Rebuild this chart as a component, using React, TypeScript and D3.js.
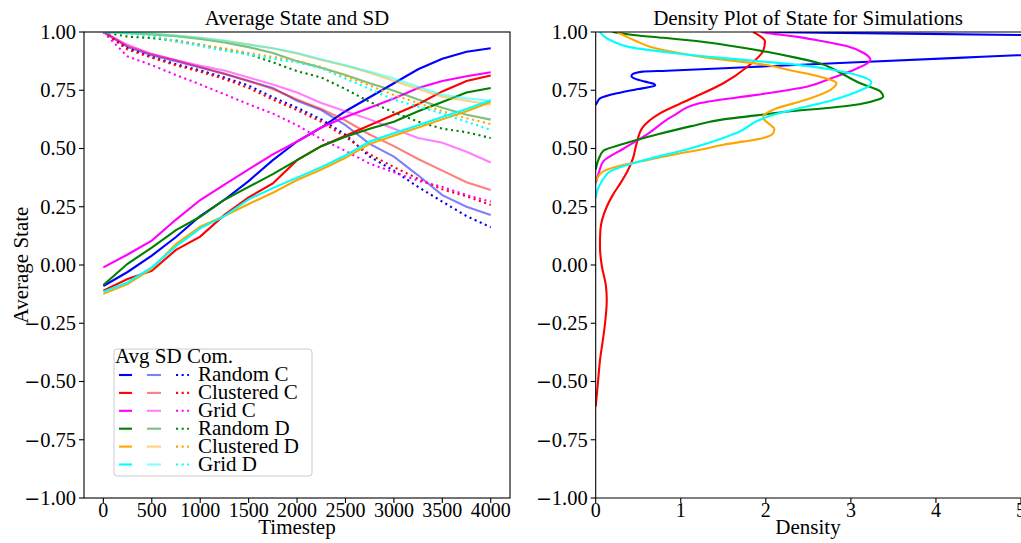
import React from "react";
import * as d3 from "d3";

// ---------- DATA ----------
const timesteps = [0, 250, 500, 750, 1000, 1250, 1500, 1750, 2000, 2250, 2500, 2750, 3000, 3250, 3500, 3750, 4000];
const categories = ["Random C", "Clustered C", "Grid C", "Random D", "Clustered D", "Grid D"];

// Average state
const avgRandomC = [-0.09, -0.03, 0.04, 0.12, 0.21, 0.28, 0.36, 0.45, 0.53, 0.59, 0.66, 0.72, 0.78, 0.84, 0.885, 0.915, 0.93];
const avgClusteredC = [-0.11, -0.06, -0.025, 0.065, 0.122, 0.215, 0.29, 0.35, 0.45, 0.51, 0.555, 0.6, 0.645, 0.69, 0.745, 0.79, 0.813];
const avgGridC = [-0.01, 0.045, 0.105, 0.195, 0.279, 0.345, 0.41, 0.475, 0.53, 0.59, 0.635, 0.675, 0.715, 0.76, 0.79, 0.81, 0.827];
const avgRandomD = [-0.086, 0.005, 0.075, 0.15, 0.207, 0.28, 0.335, 0.39, 0.45, 0.51, 0.55, 0.585, 0.615, 0.66, 0.7, 0.74, 0.76];
const avgClusteredD = [-0.124, -0.082, -0.016, 0.09, 0.165, 0.21, 0.262, 0.31, 0.365, 0.41, 0.46, 0.52, 0.555, 0.59, 0.625, 0.66, 0.7];
const avgGridD = [-0.115, -0.075, -0.01, 0.08, 0.157, 0.21, 0.282, 0.33, 0.375, 0.42, 0.47, 0.53, 0.565, 0.6, 0.635, 0.67, 0.707];

// SD
const sdRandomC = [1.0, 0.935, 0.9, 0.875, 0.848, 0.82, 0.79, 0.76, 0.705, 0.665, 0.6, 0.52, 0.465, 0.385, 0.3, 0.25, 0.215];
const sdClusteredC = [1.0, 0.94, 0.905, 0.878, 0.85, 0.822, 0.79, 0.755, 0.71, 0.67, 0.62, 0.56, 0.51, 0.455, 0.405, 0.355, 0.322];
const sdGridC = [1.0, 0.945, 0.905, 0.88, 0.855, 0.835, 0.805, 0.775, 0.74, 0.695, 0.66, 0.625, 0.585, 0.545, 0.525, 0.486, 0.44];
const sdRandomD = [1.0, 0.995, 0.99, 0.982, 0.97, 0.955, 0.935, 0.91, 0.875, 0.847, 0.815, 0.78, 0.748, 0.71, 0.675, 0.645, 0.624];
const sdClusteredD = [1.0, 0.997, 0.992, 0.985, 0.975, 0.962, 0.947, 0.93, 0.908, 0.88, 0.855, 0.825, 0.79, 0.755, 0.722, 0.705, 0.688];
const sdGridD = [1.0, 0.997, 0.993, 0.985, 0.975, 0.962, 0.945, 0.93, 0.91, 0.883, 0.857, 0.83, 0.8, 0.765, 0.73, 0.715, 0.705];

// Com.
const comRandomC = [1.0, 0.93, 0.893, 0.862, 0.835, 0.805, 0.77, 0.72, 0.675, 0.625, 0.56, 0.465, 0.405, 0.335, 0.272, 0.21, 0.162];
const comClusteredC = [1.0, 0.925, 0.89, 0.857, 0.83, 0.798, 0.76, 0.71, 0.665, 0.615, 0.55, 0.475, 0.42, 0.37, 0.325, 0.295, 0.258];
const comGridC = [1.0, 0.895, 0.858, 0.815, 0.775, 0.733, 0.69, 0.65, 0.6, 0.54, 0.49, 0.435, 0.398, 0.362, 0.335, 0.3, 0.272];
const comRandomD = [1.0, 0.98, 0.974, 0.963, 0.945, 0.925, 0.905, 0.87, 0.832, 0.805, 0.755, 0.7, 0.655, 0.615, 0.585, 0.57, 0.545];
const comClusteredD = [1.0, 0.995, 0.985, 0.958, 0.945, 0.93, 0.91, 0.893, 0.875, 0.85, 0.81, 0.77, 0.73, 0.695, 0.66, 0.63, 0.605];
const comGridD = [1.0, 0.993, 0.985, 0.96, 0.94, 0.92, 0.903, 0.885, 0.87, 0.845, 0.8, 0.755, 0.71, 0.68, 0.65, 0.615, 0.58];

// Density (state, density) per simulation
const densStateRandomC = [0.687, 0.7, 0.715, 0.737, 0.755, 0.763, 0.77, 0.778, 0.787, 0.8, 0.81, 0.818, 0.83, 0.834, 0.85, 0.87, 0.89, 0.9, 0.92, 0.95, 0.97, 0.98, 0.987, 0.997, 1.0];
const densValueRandomC = [0, 0.02, 0.05, 0.25, 0.5, 0.62, 0.7, 0.68, 0.58, 0.46, 0.42, 0.43, 0.55, 0.84, 1.83, 3.07, 4.32, 4.95, 6.0, 7.0, 6.8, 5.8, 5.0, 2.64, 2.0];
const densStateClusteredC = [-0.608, -0.55, -0.49, -0.41, -0.32, -0.25, -0.15, -0.09, 0.0, 0.08, 0.15, 0.25, 0.3, 0.345, 0.4, 0.46, 0.52, 0.59, 0.65, 0.71, 0.78, 0.85, 0.92, 0.96, 0.99, 1.0];
const densValueClusteredC = [0, 0.015, 0.03, 0.05, 0.085, 0.11, 0.13, 0.12, 0.07, 0.05, 0.055, 0.13, 0.2, 0.28, 0.37, 0.44, 0.48, 0.55, 0.75, 1.1, 1.5, 1.78, 1.97, 1.99, 1.9, 1.85];
const densStateGridC = [0.352, 0.4, 0.445, 0.5, 0.56, 0.64, 0.695, 0.73, 0.765, 0.8, 0.84, 0.88, 0.91, 0.94, 0.965, 0.98, 0.994, 1.0];
const densValueGridC = [0, 0.04, 0.09, 0.33, 0.6, 0.91, 1.23, 1.89, 2.48, 2.76, 3.05, 3.23, 3.15, 2.95, 2.6, 2.35, 2.05, 1.94];
const densStateRandomD = [0.41, 0.45, 0.49, 0.52, 0.56, 0.595, 0.625, 0.642, 0.66, 0.675, 0.69, 0.71, 0.722, 0.744, 0.78, 0.81, 0.84, 0.865, 0.89, 0.915, 0.94, 0.959, 0.975, 0.987, 1.0];
const densValueRandomD = [0, 0.03, 0.09, 0.33, 0.72, 1.11, 1.5, 1.89, 2.29, 2.76, 3.1, 3.32, 3.38, 3.35, 3.11, 2.95, 2.8, 2.64, 2.35, 2.01, 1.6, 1.23, 0.8, 0.44, 0.2];
const densStateClusteredD = [0.358, 0.38, 0.402, 0.43, 0.45, 0.473, 0.5, 0.516, 0.545, 0.567, 0.585, 0.602, 0.625, 0.638, 0.667, 0.71, 0.752, 0.78, 0.808, 0.835, 0.858, 0.894, 0.915, 0.937, 0.96, 0.98, 1.0];
const densValueClusteredD = [0, 0.03, 0.09, 0.33, 0.6, 0.91, 1.3, 1.5, 1.97, 2.09, 2.1, 2.05, 1.98, 1.97, 2.09, 2.48, 2.76, 2.83, 2.64, 2.3, 2.01, 1.23, 0.9, 0.64, 0.48, 0.36, 0.25];
const densStateGridD = [0.288, 0.32, 0.345, 0.375, 0.402, 0.445, 0.5, 0.545, 0.574, 0.617, 0.645, 0.68, 0.705, 0.74, 0.77, 0.785, 0.8, 0.823, 0.84, 0.86, 0.875, 0.888, 0.91, 0.935, 0.96, 0.98, 1.0];
const densValueGridD = [0, 0.02, 0.05, 0.1, 0.17, 0.52, 1.11, 1.5, 1.7, 1.89, 2.09, 2.48, 2.76, 3.05, 3.22, 3.24, 3.19, 2.99, 2.75, 2.35, 1.9, 1.5, 0.91, 0.4, 0.2, 0.1, 0.05];

const yTicks = [-1, -0.75, -0.5, -0.25, 0, 0.25, 0.5, 0.75, 1];
const xTicksLeft = [0, 500, 1000, 1500, 2000, 2500, 3000, 3500, 4000];
const xTicksRight = [0, 1, 2, 3, 4, 5];

// ---------- STYLE ----------
const colors = ["#0000ff", "#ff0000", "#ff00ff", "#008000", "#ffa500", "#00ffff"];
const FONT = "'Liberation Serif', 'Times New Roman', serif";
const MINUS_FONT = "'DejaVu Serif', serif";

const avgSeries = [avgRandomC, avgClusteredC, avgGridC, avgRandomD, avgClusteredD, avgGridD];
const sdSeries = [sdRandomC, sdClusteredC, sdGridC, sdRandomD, sdClusteredD, sdGridD];
const comSeries = [comRandomC, comClusteredC, comGridC, comRandomD, comClusteredD, comGridD];
const densStates = [densStateRandomC, densStateClusteredC, densStateGridC, densStateRandomD, densStateClusteredD, densStateGridD];
const densValues = [densValueRandomC, densValueClusteredC, densValueGridC, densValueRandomD, densValueClusteredD, densValueGridD];

const W = 1021;
const H = 543;
const top = 32;
const bottom = 498;
const L = { x0: 84, x1: 510 };
const R = { x0: 595.7, x1: 1021 };

export default function App() {
  const y = d3.scaleLinear().domain([-1, 1]).range([bottom, top]);
  const xL = d3.scaleLinear().domain([-199.95, 4198.95]).range([L.x0, L.x1]);
  const xR = d3.scaleLinear().domain([0, 5]).range([R.x0, R.x1]);
  const fmt = d3.format(".2f");

  const tsLine = (vals: number[]) =>
    d3.line<number>().x((_, i) => xL(timesteps[i])).y((d) => y(d))(vals) || "";

  const densLine = (states: number[], vals: number[]) => {
    const pts = states.map((s, i) => [vals[i], s] as [number, number]).sort((a, b) => b[1] - a[1]);
    return d3.line<[number, number]>().x((d) => xR(d[0])).y((d) => y(d[1])).curve(d3.curveMonotoneY)(pts) || "";
  };

  const lw = 2.1;
  const tickLen = 5;
  const fs = 20;

  const yLabel = (t: number) => {
    const s = fmt(Math.abs(t));
    if (t < 0) {
      return (
        <>
          <tspan fontFamily={MINUS_FONT} fontSize={19}>{"\u2212"}</tspan>
          <tspan>{s}</tspan>
        </>
      );
    }
    return s;
  };

  const yAxis = (x0: number) =>
    yTicks.map((t) => (
      <g key={"yt" + x0 + t}>
        <line x1={x0 - tickLen} x2={x0} y1={y(t)} y2={y(t)} stroke="#000" strokeWidth={1.1} />
        <text x={x0 - 8} y={y(t)} dy="0.34em" textAnchor="end" fontSize={20.5} fontFamily={FONT}>
          {yLabel(t)}
        </text>
      </g>
    ));

  return (
    <div style={{ position: "absolute", left: 0, top: 0 }}>
      <svg width={W} height={H} style={{ display: "block", background: "#fff" }}>
        <defs>
          <clipPath id="clipR">
            <rect x={R.x0} y={top} width={R.x1 - R.x0 + 5} height={bottom - top} />
          </clipPath>
          <clipPath id="clipL">
            <rect x={L.x0} y={top} width={L.x1 - L.x0} height={bottom - top} />
          </clipPath>
        </defs>
        <rect x={0} y={0} width={W} height={H} fill="#fff" />

        {/* LEFT PANEL */}
        <g clipPath="url(#clipL)">
          {categories.map((c, i) => (
            <g key={"l" + c}>
              <path d={tsLine(avgSeries[i])} fill="none" stroke={colors[i]} strokeWidth={lw} />
              <path d={tsLine(sdSeries[i])} fill="none" stroke={colors[i]} strokeOpacity={0.5} strokeWidth={lw} />
              <path d={tsLine(comSeries[i])} fill="none" stroke={colors[i]} strokeWidth={lw} strokeDasharray="2.1 3.5" />
            </g>
          ))}
        </g>
        <rect x={L.x0} y={top} width={L.x1 - L.x0} height={bottom - top} fill="none" stroke="#000" strokeWidth={1.1} />
        {yAxis(L.x0)}
        {xTicksLeft.map((t) => (
          <g key={"xl" + t}>
            <line x1={xL(t)} x2={xL(t)} y1={bottom} y2={bottom + tickLen} stroke="#000" strokeWidth={1.1} />
            <text x={xL(t)} y={517} textAnchor="middle" fontSize={fs} fontFamily={FONT}>
              {t}
            </text>
          </g>
        ))}
        <text x={(L.x0 + L.x1) / 2} y={25} textAnchor="middle" fontSize={21} fontFamily={FONT}>
          Average State and SD
        </text>
        <text x={(L.x0 + L.x1) / 2} y={534} textAnchor="middle" fontSize={21} fontFamily={FONT}>
          Timestep
        </text>
        <text
          transform={`translate(28, ${(top + bottom) / 2}) rotate(-90)`}
          textAnchor="middle"
          fontSize={21}
          fontFamily={FONT}
        >
          Average State
        </text>

        {/* Legend */}
        <g>
          <rect x={114} y={349} width={198} height={127} rx={3} fill="#fff" fillOpacity={0.8} stroke="#cccccc" strokeWidth={1} />
          <text x={115} y={363} fontSize={21} fontFamily={FONT}>
            Avg SD Com.
          </text>
          {categories.map((c, i) => {
            const cy = 375 + i * 17.9;
            return (
              <g key={"lg" + c}>
                <line x1={119} x2={132} y1={cy} y2={cy} stroke={colors[i]} strokeWidth={lw} />
                <line x1={147} x2={161} y1={cy} y2={cy} stroke={colors[i]} strokeOpacity={0.5} strokeWidth={lw} />
                <line x1={176} x2={189} y1={cy} y2={cy} stroke={colors[i]} strokeWidth={lw} strokeDasharray="2.1 3.5" />
                <text x={198} y={cy + 6} fontSize={21} fontFamily={FONT}>
                  {c}
                </text>
              </g>
            );
          })}
        </g>

        {/* RIGHT PANEL */}
        <g clipPath="url(#clipR)">
          {categories.map((c, i) => (
            <path key={"d" + c} d={densLine(densStates[i], densValues[i])} fill="none" stroke={colors[i]} strokeWidth={lw} />
          ))}
        </g>
        <line x1={R.x0} x2={R.x1 + 2} y1={top} y2={top} stroke="#000" strokeWidth={1.1} />
        <line x1={R.x0} x2={R.x1 + 2} y1={bottom} y2={bottom} stroke="#000" strokeWidth={1.1} />
        <line x1={R.x0} x2={R.x0} y1={top} y2={bottom} stroke="#000" strokeWidth={1.1} />
        {yAxis(R.x0)}
        {xTicksRight.map((t) => (
          <g key={"xr" + t}>
            <line x1={xR(t)} x2={xR(t)} y1={bottom} y2={bottom + tickLen} stroke="#000" strokeWidth={1.1} />
            <text x={xR(t)} y={517} textAnchor="middle" fontSize={fs} fontFamily={FONT}>
              {t}
            </text>
          </g>
        ))}
        <text x={808} y={25} textAnchor="middle" fontSize={21} fontFamily={FONT}>
          Density Plot of State for Simulations
        </text>
        <text x={808} y={534} textAnchor="middle" fontSize={21} fontFamily={FONT}>
          Density
        </text>
      </svg>
    </div>
  );
}
